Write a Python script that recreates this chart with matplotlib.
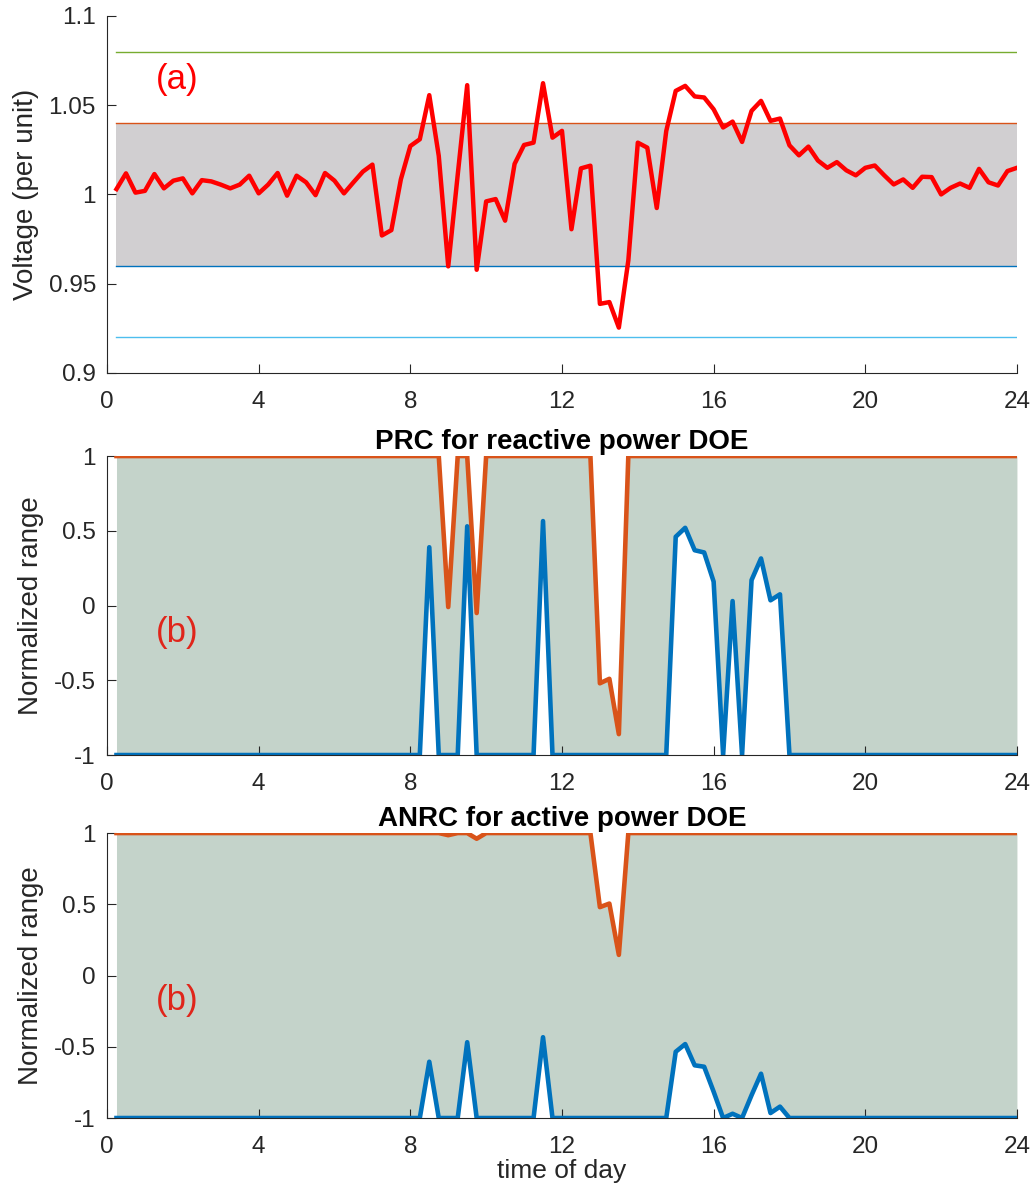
import numpy as np
import matplotlib
matplotlib.use('Agg')
import matplotlib.pyplot as plt

plt.rcParams['font.family'] = ['Liberation Sans', 'DejaVu Sans']

# time of day, 15 minute steps
hours = np.arange(1, 97) * 0.25

# (a) bus voltage in per unit
voltage = [1.003, 1.0118, 1.001, 1.002,
           1.0114, 1.0034, 1.0077, 1.009,
           1.0006, 1.008, 1.0073, 1.0055,
           1.0034, 1.0055, 1.0105, 1.0006,
           1.0055, 1.012, 0.9993, 1.0105,
           1.0068, 0.9996, 1.012, 1.0077,
           1.0006, 1.0068, 1.0128, 1.0167,
           0.977, 0.980, 1.0084, 1.0271,
           1.0309, 1.0556, 1.0216, 0.9597,
           1.011, 1.0612, 0.9578, 0.9961,
           0.9974, 0.9853, 1.0171, 1.0277,
           1.029, 1.0623, 1.0318, 1.0356,
           0.9805, 1.0146, 1.0161, 0.9387,
           0.9397, 0.9254, 0.963, 1.029,
           1.0262, 0.9924, 1.0355, 1.058,
           1.0608, 1.0549, 1.0543, 1.0477,
           1.0375, 1.0408, 1.0294, 1.0468,
           1.0524, 1.0412, 1.0425, 1.0275,
           1.0219, 1.0268, 1.019, 1.0149,
           1.0181, 1.0135, 1.0107, 1.0149,
           1.0162, 1.0107, 1.0056, 1.0084,
           1.0037, 1.0099, 1.0097, 1.0,
           1.0037, 1.0061, 1.0037, 1.0143,
           1.0068, 1.005, 1.0131, 1.0149]

# voltage limits (per unit)
v_limits = [1.08, 1.04, 0.96, 0.92]
v_limit_colors = ['#77AC30', '#D95319', '#0072BD', '#4DBEEE']

# (b) PRC for reactive power DOE, lower / upper normalized range
prc_low = [-1, -1, -1, -1, -1, -1, -1, -1, -1, -1, -1, -1, -1, -1, -1, -1,
           -1, -1, -1, -1, -1, -1, -1, -1, -1, -1, -1, -1, -1, -1, -1, -1,
           -1, 0.39, -1, -1,
           -1, 0.53, -1, -1,
           -1, -1, -1, -1,
           -1, 0.565, -1, -1,
           -1, -1, -1, -1,
           -1, -1, -1, -1,
           -1, -1, -1, 0.46,
           0.52, 0.37, 0.355, 0.16,
           -1, 0.03, -1, 0.17,
           0.315, 0.035, 0.075, -1,
           -1, -1, -1, -1, -1, -1, -1, -1, -1, -1, -1, -1,
           -1, -1, -1, -1, -1, -1, -1, -1, -1, -1, -1, -1]
prc_high = [1, 1, 1, 1, 1, 1, 1, 1, 1, 1, 1, 1, 1, 1, 1, 1,
            1, 1, 1, 1, 1, 1, 1, 1, 1, 1, 1, 1, 1, 1, 1, 1,
            1, 1, 1, -0.01,
            1, 1, -0.05, 1,
            1, 1, 1, 1,
            1, 1, 1, 1,
            1, 1, 1, -0.52,
            -0.49, -0.86, 1, 1,
            1, 1, 1, 1,
            1, 1, 1, 1,
            1, 1, 1, 1,
            1, 1, 1, 1,
            1, 1, 1, 1, 1, 1, 1, 1, 1, 1, 1, 1,
            1, 1, 1, 1, 1, 1, 1, 1, 1, 1, 1, 1]

# (b) ANRC for active power DOE
anrc_low = [-1, -1, -1, -1, -1, -1, -1, -1, -1, -1, -1, -1, -1, -1, -1, -1,
            -1, -1, -1, -1, -1, -1, -1, -1, -1, -1, -1, -1, -1, -1, -1, -1,
            -1, -0.605, -1, -1,
            -1, -0.468, -1, -1,
            -1, -1, -1, -1,
            -1, -0.433, -1, -1,
            -1, -1, -1, -1,
            -1, -1, -1, -1,
            -1, -1, -1, -0.535,
            -0.481, -0.63, -0.64, -0.815,
            -1, -0.97, -1, -0.84,
            -0.689, -0.965, -0.92, -1,
            -1, -1, -1, -1, -1, -1, -1, -1, -1, -1, -1, -1,
            -1, -1, -1, -1, -1, -1, -1, -1, -1, -1, -1, -1]
anrc_high = [1, 1, 1, 1, 1, 1, 1, 1, 1, 1, 1, 1, 1, 1, 1, 1,
             1, 1, 1, 1, 1, 1, 1, 1, 1, 1, 1, 1, 1, 1, 1, 1,
             1, 1, 1, 0.985,
             1, 1, 0.96, 1,
             1, 1, 1, 1,
             1, 1, 1, 1,
             1, 1, 1, 0.48,
             0.505, 0.145, 1, 1,
             1, 1, 1, 1,
             1, 1, 1, 1,
             1, 1, 1, 1,
             1, 1, 1, 1,
             1, 1, 1, 1, 1, 1, 1, 1, 1, 1, 1, 1,
             1, 1, 1, 1, 1, 1, 1, 1, 1, 1, 1, 1]

x_ticks = [0, 4, 8, 12, 16, 20, 24]

dark = '#262626'
band_gray = '#d1cfd1'
band_green = '#c4d3ca'
matlab_blue = '#0072BD'
matlab_orange = '#D95319'

fig = plt.figure(figsize=(10.34, 11.87), dpi=100)
ax1 = fig.add_axes([0.1035, 0.6858, 0.880, 0.3008])
ax2 = fig.add_axes([0.1035, 0.3639, 0.880, 0.2519])
ax3 = fig.add_axes([0.1035, 0.0581, 0.880, 0.2401])


def style_axis(ax):
    # matlab look: box off, ticks inside
    ax.spines['top'].set_visible(False)
    ax.spines['right'].set_visible(False)
    for s in ['left', 'bottom']:
        ax.spines[s].set_color(dark)
        ax.spines[s].set_linewidth(0.8)
    ax.tick_params(direction='in', length=6.5, width=0.8, color=dark,
                   labelcolor=dark, labelsize=17.5)
    ax.tick_params(axis='x', pad=13)
    ax.tick_params(axis='y', pad=8)
    ax.set_xlim(0, 24)
    ax.set_xticks(x_ticks)
    ax.set_xticklabels([str(x) for x in x_ticks])


# (a) voltage ----------------------------------------------------------
ax1.fill_between(hours, v_limits[2], v_limits[1], color=band_gray, lw=0)
for lim, col in zip(v_limits, v_limit_colors):
    ax1.plot(hours, np.full(len(hours), lim), color=col, lw=1.0)
ax1.plot(hours, voltage, color='red', lw=3.2)
style_axis(ax1)
ax1.set_ylim(0.9, 1.1)
ax1.set_yticks([0.9, 0.95, 1.0, 1.05, 1.1])
ax1.set_yticklabels(['0.9', '0.95', '1', '1.05', '1.1'])
ax1.set_ylabel('Voltage (per unit)', fontsize=20, color=dark, labelpad=7)
ax1.text(1.3, 1.0644, '(a)', color='red', fontsize=25, ha='left', va='center')

# (b) PRC ---------------------------------------------------------------
ax2.fill_between(hours, prc_low, prc_high, color=band_green, lw=0)
ax2.plot(hours, prc_high, color=matlab_orange, lw=3.3)
ax2.plot(hours, prc_low, color=matlab_blue, lw=3.3)
style_axis(ax2)
ax2.set_ylim(-1, 1)
ax2.set_yticks([-1, -0.5, 0, 0.5, 1])
ax2.set_yticklabels(['-1', '-0.5', '0', '0.5', '1'])
ax2.set_ylabel('Normalized range', fontsize=20, color=dark, labelpad=7)
ax2.set_title('PRC for reactive power DOE', fontsize=20, fontweight='bold', pad=5)
ax2.text(1.3, -0.177, '(b)', color='#E0251A', fontsize=25, ha='left', va='center')

# (b) ANRC --------------------------------------------------------------
ax3.fill_between(hours, anrc_low, anrc_high, color=band_green, lw=0)
ax3.plot(hours, anrc_high, color=matlab_orange, lw=3.3)
ax3.plot(hours, anrc_low, color=matlab_blue, lw=3.3)
style_axis(ax3)
ax3.set_ylim(-1, 1)
ax3.set_yticks([-1, -0.5, 0, 0.5, 1])
ax3.set_yticklabels(['-1', '-0.5', '0', '0.5', '1'])
ax3.set_ylabel('Normalized range', fontsize=20, color=dark, labelpad=7)
ax3.set_title('ANRC for active power DOE', fontsize=20, fontweight='bold', pad=5)
ax3.set_xlabel('time of day', fontsize=19, color=dark, labelpad=1)
ax3.text(1.3, -0.172, '(b)', color='#E0251A', fontsize=25, ha='left', va='center')

plt.savefig('out.png', dpi=100)
